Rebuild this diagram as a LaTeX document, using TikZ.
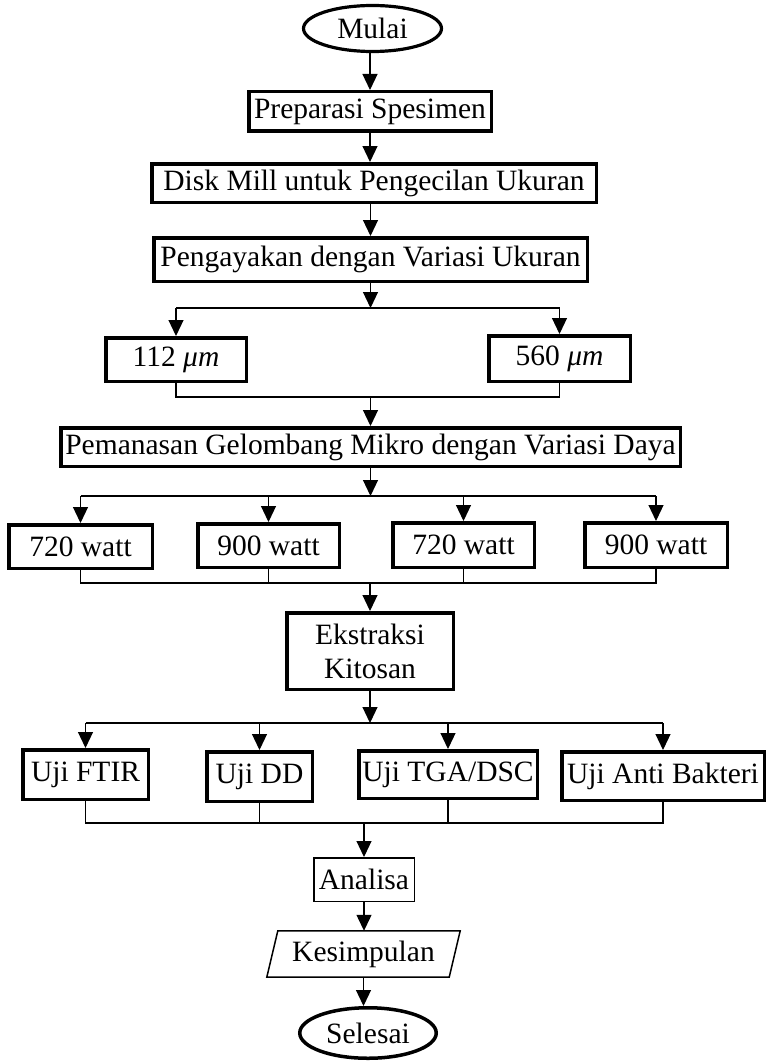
\documentclass[tikz,border=0pt]{standalone}
\usepackage{fontspec}
\setmainfont{Liberation Serif}
\usetikzlibrary{arrows.meta,shapes.geometric}
\tikzset{
  txt/.style={font=\fontsize{29.5}{34}\selectfont, align=center, inner sep=0pt},
  box/.style={txt, draw, rectangle, line width=3.5pt},
  thinbox/.style={box, line width=1.5pt},
  oval/.style={txt, draw, ellipse, line width=3.2pt},
  link/.style={line width=1.2pt},
  arr/.style={link, -{Triangle[length=16pt,width=15pt]}},
}
\begin{document}
\begin{tikzpicture}[x=1pt,y=-1pt]
\useasboundingbox[fill=white] (0,0) rectangle (767,1062);

% main column
\node[oval, minimum width=138pt, minimum height=46pt] (mulai) at (372.5,28.5) {Mulai};
\node[box, minimum width=242.5pt, minimum height=39.5pt] (prep) at (370,111.5) {Preparasi Spesimen};
\node[box, minimum width=444.5pt, minimum height=38.5pt] (disk) at (374,183) {Disk Mill untuk Pengecilan Ukuran};
\node[box, minimum width=433.5pt, minimum height=43.5pt] (ayak) at (370.5,259.5) {Pengayakan dengan Variasi Ukuran};

% particle sizes
\node[box, minimum width=140.5pt, minimum height=43.5pt] (u112) at (176,359.5) {112 {\itshape μm}};
\node[box, minimum width=141.5pt, minimum height=45.5pt] (u560) at (559.5,358.5) {560 {\itshape μm}};

\node[box, minimum width=619.5pt, minimum height=38.5pt] (panas) at (370.5,447) {Pemanasan Gelombang Mikro dengan Variasi Daya};

% microwave power
\node[box, minimum width=143.5pt, minimum height=43.5pt] (w1) at (80.5,546.5) {720 watt};
\node[box, minimum width=141.5pt, minimum height=43.5pt] (w2) at (268.5,545.5) {900 watt};
\node[box, minimum width=141.5pt, minimum height=44.5pt] (w3) at (463.5,545) {720 watt};
\node[box, minimum width=142.5pt, minimum height=44.5pt] (w4) at (656,545) {900 watt};

\node[box, minimum width=166.5pt, minimum height=76.5pt] (ekstr) at (370,651) {Ekstraksi\\Kitosan};

% tests
\node[box, minimum width=125.5pt, minimum height=49.5pt] (ftir) at (85.5,774.5) {Uji FTIR};
\node[box, minimum width=105.5pt, minimum height=49.5pt] (dd) at (259.5,776.5) {Uji DD};
\node[box, minimum width=178.5pt, minimum height=47.5pt] (tga) at (448,774.5) {Uji TGA/DSC};
\node[box, minimum width=202.5pt, minimum height=48.5pt] (anti) at (663,776) {Uji Anti Bakteri};

\node[thinbox, minimum width=100.5pt, minimum height=43.5pt] (analisa) at (364,879.5) {Analisa};
\node[txt, minimum width=182pt, minimum height=46pt] (kes) at (363.5,954) {Kesimpulan};
\draw[line width=1.5pt, line join=miter]
  ([xshift=5.5pt]kes.north west) -- ([xshift=5.5pt]kes.north east)
  -- ([xshift=-5.5pt]kes.south east) -- ([xshift=-5.5pt]kes.south west) -- cycle;
\node[oval, minimum width=136.5pt, minimum height=50.5pt, line width=3.5pt] (selesai) at (368,1033) {Selesai};

% junction points
\coordinate (s1) at (370.5,308);
\coordinate (m1) at (370.5,397);
\coordinate (s2) at (370.5,496);
\coordinate (m2) at (370,583);
\coordinate (s3) at (370,723);
\coordinate (m3) at (364,823);

% straight flow
\draw[arr] (prep.north |- mulai.south) -- (prep.north);
\draw[arr] (prep.south) -- (prep.south |- disk.north);
\draw[arr] (ayak.north |- disk.south) -- (ayak.north);

% split into sizes
\draw[arr] (ayak.south) -- (s1);
\draw[link] (u112.north |- s1) -- (u560.north |- s1);
\draw[arr] (u112.north |- s1) -- (u112.north);
\draw[arr] (u560.north |- s1) -- (u560.north);
\draw[link] (u112.south) -- (u112.south |- m1) -- (u560.south |- m1) -- (u560.south);
\draw[arr] (m1) -- (panas.north);

% split into power levels
\draw[arr] (panas.south) -- (s2);
\draw[link] (w1.north |- s2) -- (w4.north |- s2);
\foreach \w in {w1,w2,w3,w4}
  \draw[arr] (\w.north |- s2) -- (\w.north);
\draw[link] (w1.south) -- (w1.south |- m2) -- (w4.south |- m2) -- (w4.south);
\draw[link] (w2.south) -- (w2.south |- m2);
\draw[link] (w3.south) -- (w3.south |- m2);
\draw[arr] (m2) -- (ekstr.north);

% split into tests
\draw[arr] (ekstr.south) -- (s3);
\draw[link] (ftir.north |- s3) -- (anti.north |- s3);
\foreach \u in {ftir,dd,tga,anti}
  \draw[arr] (\u.north |- s3) -- (\u.north);
\draw[link] (ftir.south) -- (ftir.south |- m3) -- (anti.south |- m3) -- (anti.south);
\draw[link] (dd.south) -- (dd.south |- m3);
\draw[link] (tga.south) -- (tga.south |- m3);
\draw[arr] (m3) -- (analisa.north);

% conclusion
\draw[arr] (analisa.south) -- (analisa.south |- kes.north);
\draw[arr] (kes.south) -- (kes.south |- selesai.north);
\end{tikzpicture}
\end{document}
